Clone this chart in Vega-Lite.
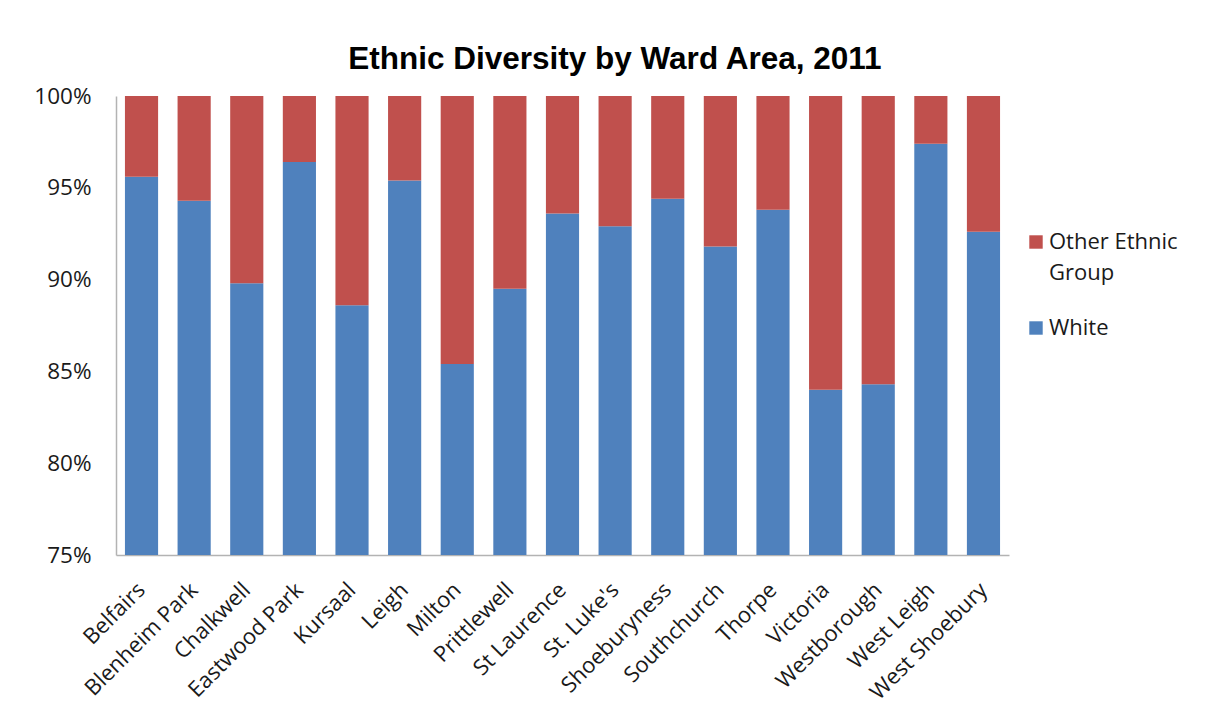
{
  "$schema": "https://vega.github.io/schema/vega-lite/v6.json",
  "width": 893,
  "height": 459,
  "autosize": {"type": "pad"},
  "padding": {"left": 33, "top": 43, "right": 0, "bottom": 0},
  "background": "#ffffff",
  "config": {
    "view": {"stroke": null},
    "font": "Open Sans"
  },
  "title": {
    "text": "Ethnic Diversity by Ward Area, 2011",
    "font": "Liberation Sans",
    "fontSize": 31.5,
    "fontWeight": "bold",
    "color": "#000000",
    "anchor": "middle",
    "frame": "bounds",
    "dx": 9,
    "offset": 10
  },
  "data": {
    "values": [
      {"ward": "Belfairs", "group": "White", "pct": 95.6},
      {"ward": "Belfairs", "group": "Other Ethnic Group", "pct": 4.4},
      {"ward": "Blenheim Park", "group": "White", "pct": 94.3},
      {"ward": "Blenheim Park", "group": "Other Ethnic Group", "pct": 5.7},
      {"ward": "Chalkwell", "group": "White", "pct": 89.8},
      {"ward": "Chalkwell", "group": "Other Ethnic Group", "pct": 10.2},
      {"ward": "Eastwood Park", "group": "White", "pct": 96.4},
      {"ward": "Eastwood Park", "group": "Other Ethnic Group", "pct": 3.6},
      {"ward": "Kursaal", "group": "White", "pct": 88.6},
      {"ward": "Kursaal", "group": "Other Ethnic Group", "pct": 11.4},
      {"ward": "Leigh", "group": "White", "pct": 95.4},
      {"ward": "Leigh", "group": "Other Ethnic Group", "pct": 4.6},
      {"ward": "Milton", "group": "White", "pct": 85.4},
      {"ward": "Milton", "group": "Other Ethnic Group", "pct": 14.6},
      {"ward": "Prittlewell", "group": "White", "pct": 89.5},
      {"ward": "Prittlewell", "group": "Other Ethnic Group", "pct": 10.5},
      {"ward": "St Laurence", "group": "White", "pct": 93.6},
      {"ward": "St Laurence", "group": "Other Ethnic Group", "pct": 6.4},
      {"ward": "St. Luke's", "group": "White", "pct": 92.9},
      {"ward": "St. Luke's", "group": "Other Ethnic Group", "pct": 7.1},
      {"ward": "Shoeburyness", "group": "White", "pct": 94.4},
      {"ward": "Shoeburyness", "group": "Other Ethnic Group", "pct": 5.6},
      {"ward": "Southchurch", "group": "White", "pct": 91.8},
      {"ward": "Southchurch", "group": "Other Ethnic Group", "pct": 8.2},
      {"ward": "Thorpe", "group": "White", "pct": 93.8},
      {"ward": "Thorpe", "group": "Other Ethnic Group", "pct": 6.2},
      {"ward": "Victoria", "group": "White", "pct": 84.0},
      {"ward": "Victoria", "group": "Other Ethnic Group", "pct": 16.0},
      {"ward": "Westborough", "group": "White", "pct": 84.3},
      {"ward": "Westborough", "group": "Other Ethnic Group", "pct": 15.7},
      {"ward": "West Leigh", "group": "White", "pct": 97.4},
      {"ward": "West Leigh", "group": "Other Ethnic Group", "pct": 2.6},
      {"ward": "West Shoebury", "group": "White", "pct": 92.6},
      {"ward": "West Shoebury", "group": "Other Ethnic Group", "pct": 7.4}
    ]
  },
  "mark": {"type": "bar", "clip": true},
  "encoding": {
    "x": {
      "field": "ward",
      "type": "nominal",
      "sort": null,
      "title": null,
      "scale": {"paddingInner": 0.37, "paddingOuter": 0.17},
      "axis": {
        "labelAngle": -45,
        "labelAlign": "right",
        "labelBaseline": "middle",
        "labelFont": "Open Sans",
        "labelFontSize": 22,
        "labelColor": "#1a1a1a",
        "labelPadding": 31,
        "ticks": false,
        "domainColor": "#b3b3b3",
        "domainWidth": 1.5
      }
    },
    "y": {
      "field": "pct",
      "type": "quantitative",
      "stack": "zero",
      "title": null,
      "scale": {"domain": [75, 100], "nice": false, "zero": false},
      "axis": {
        "values": [75, 80, 85, 90, 95, 100],
        "labelExpr": "datum.value + '%'",
        "labelFont": "Open Sans",
        "labelFontSize": 22.5,
        "labelColor": "#1a1a1a",
        "labelPadding": 25,
        "ticks": false,
        "grid": false,
        "domainColor": "#b3b3b3",
        "domainWidth": 1.5
      }
    },
    "color": {
      "field": "group",
      "type": "nominal",
      "scale": {
        "domain": ["Other Ethnic Group", "White"],
        "range": ["#C0504D", "#4F81BD"]
      },
      "legend": {
        "title": null,
        "orient": "none",
        "legendX": 909,
        "legendY": 135,
        "symbolType": "square",
        "symbolSize": 180,
        "symbolStrokeWidth": 0,
        "labelFont": "Open Sans",
        "labelFontSize": 22,
        "labelColor": "#1a1a1a",
        "labelOffset": 2,
        "labelExpr": "datum.label == 'Other Ethnic Group' ? ['Other Ethnic', 'Group'] : datum.label",
        "labelLimit": 300,
        "rowPadding": 33,
        "encode": {
          "labels": {"update": {"lineHeight": {"value": 31}}}
        }
      }
    },
    "order": {"field": "group", "sort": "descending"}
  }
}
